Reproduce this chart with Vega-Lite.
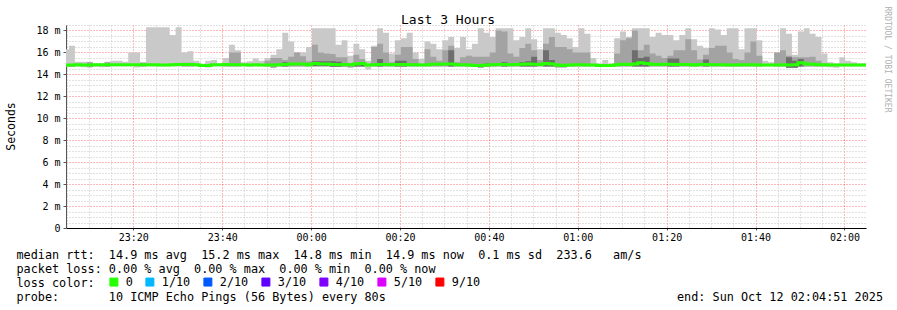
{
"$schema":"https://vega.github.io/schema/vega-lite/v6.json",
"width":800,"height":203,
"autosize":{"type":"none"},
"padding":{"left":66,"top":25,"right":31,"bottom":82},
"background":"white",
"title":{"text":"Last 3 Hours","font":"DejaVu Sans Mono","fontSize":13,"fontWeight":"normal","color":"#000","anchor":"middle","dx":-18,"dy":24,"offset":3},
"config":{"view":{"stroke":null},"axis":{"labelFont":"DejaVu Sans Mono","titleFont":"DejaVu Sans Mono","labelColor":"#000","titleColor":"#000","titleFontWeight":"normal","zindex":1,"gridDash":[1,2],"labelFlush":false,"labelOverlap":false}},
"data":{"values":[
{"t":"2025-10-11T23:04:11","lo":14.7,"hi":16.3,"mid":14.95,"dk":14.7,"med":14.85},
{"t":"2025-10-11T23:05:31","lo":14.7,"hi":16.6,"mid":14.95,"dk":14.7,"med":14.85},
{"t":"2025-10-11T23:06:51","lo":14.7,"hi":15.15,"mid":14.7,"dk":14.7,"med":14.88},
{"t":"2025-10-11T23:08:11","lo":14.65,"hi":15.15,"mid":14.65,"dk":14.65,"med":14.85},
{"t":"2025-10-11T23:09:31","lo":14.65,"hi":15.15,"mid":15.1,"dk":14.65,"med":14.85},
{"t":"2025-10-11T23:10:51","lo":14.7,"hi":15.0,"mid":14.7,"dk":14.7,"med":14.88},
{"t":"2025-10-11T23:12:11","lo":14.65,"hi":15.0,"mid":14.65,"dk":14.65,"med":14.88},
{"t":"2025-10-11T23:13:31","lo":14.7,"hi":15.15,"mid":15.1,"dk":14.7,"med":14.88},
{"t":"2025-10-11T23:14:51","lo":14.72,"hi":15.25,"mid":14.72,"dk":14.72,"med":14.88},
{"t":"2025-10-11T23:16:11","lo":14.72,"hi":15.25,"mid":14.72,"dk":14.72,"med":14.88},
{"t":"2025-10-11T23:17:31","lo":14.72,"hi":15.15,"mid":14.72,"dk":14.72,"med":14.88},
{"t":"2025-10-11T23:18:51","lo":14.72,"hi":16.0,"mid":14.72,"dk":14.72,"med":14.88},
{"t":"2025-10-11T23:20:11","lo":14.62,"hi":16.0,"mid":14.62,"dk":14.62,"med":14.88},
{"t":"2025-10-11T23:21:31","lo":14.72,"hi":15.1,"mid":15.05,"dk":14.72,"med":14.88},
{"t":"2025-10-11T23:22:51","lo":14.72,"hi":18.3,"mid":14.72,"dk":14.72,"med":14.88},
{"t":"2025-10-11T23:24:11","lo":14.72,"hi":18.3,"mid":14.72,"dk":14.72,"med":14.88},
{"t":"2025-10-11T23:25:31","lo":14.72,"hi":18.3,"mid":14.72,"dk":14.72,"med":14.85},
{"t":"2025-10-11T23:26:51","lo":14.72,"hi":18.3,"mid":14.72,"dk":14.72,"med":14.85},
{"t":"2025-10-11T23:28:11","lo":14.72,"hi":17.6,"mid":14.72,"dk":14.72,"med":14.88},
{"t":"2025-10-11T23:29:31","lo":14.72,"hi":18.3,"mid":14.72,"dk":14.72,"med":14.9},
{"t":"2025-10-11T23:30:51","lo":14.72,"hi":16.0,"mid":15.05,"dk":14.72,"med":14.9},
{"t":"2025-10-11T23:32:11","lo":14.72,"hi":16.1,"mid":15.05,"dk":14.72,"med":14.9},
{"t":"2025-10-11T23:33:31","lo":14.72,"hi":15.25,"mid":14.72,"dk":14.72,"med":14.88},
{"t":"2025-10-11T23:34:51","lo":14.7,"hi":14.95,"mid":14.7,"dk":14.7,"med":14.82},
{"t":"2025-10-11T23:36:11","lo":14.62,"hi":15.25,"mid":14.62,"dk":14.62,"med":14.82},
{"t":"2025-10-11T23:37:31","lo":14.72,"hi":15.3,"mid":14.72,"dk":14.72,"med":14.88},
{"t":"2025-10-11T23:38:51","lo":14.72,"hi":14.95,"mid":14.72,"dk":14.72,"med":14.88},
{"t":"2025-10-11T23:40:11","lo":14.72,"hi":15.5,"mid":15.0,"dk":14.72,"med":14.9},
{"t":"2025-10-11T23:41:31","lo":14.72,"hi":16.7,"mid":16.0,"dk":14.72,"med":14.88},
{"t":"2025-10-11T23:42:51","lo":14.72,"hi":16.2,"mid":16.0,"dk":14.72,"med":14.88},
{"t":"2025-10-11T23:44:11","lo":14.72,"hi":15.1,"mid":14.72,"dk":14.72,"med":14.88},
{"t":"2025-10-11T23:45:31","lo":14.7,"hi":15.2,"mid":14.7,"dk":14.7,"med":14.85},
{"t":"2025-10-11T23:46:51","lo":14.72,"hi":15.45,"mid":14.72,"dk":14.72,"med":14.88},
{"t":"2025-10-11T23:48:11","lo":14.72,"hi":15.25,"mid":14.72,"dk":14.72,"med":14.85},
{"t":"2025-10-11T23:49:31","lo":14.72,"hi":15.5,"mid":15.25,"dk":14.72,"med":14.85},
{"t":"2025-10-11T23:50:51","lo":14.6,"hi":15.8,"mid":15.5,"dk":14.6,"med":14.85},
{"t":"2025-10-11T23:52:11","lo":14.72,"hi":16.3,"mid":15.5,"dk":14.72,"med":14.88},
{"t":"2025-10-11T23:53:31","lo":14.72,"hi":17.8,"mid":15.3,"dk":15.1,"med":14.9},
{"t":"2025-10-11T23:54:51","lo":14.72,"hi":17.0,"mid":15.6,"dk":14.72,"med":14.95},
{"t":"2025-10-11T23:56:11","lo":14.72,"hi":16.0,"mid":16.0,"dk":14.72,"med":14.95},
{"t":"2025-10-11T23:57:31","lo":14.72,"hi":16.0,"mid":15.65,"dk":14.72,"med":14.95},
{"t":"2025-10-11T23:58:51","lo":14.72,"hi":16.5,"mid":15.2,"dk":14.72,"med":14.88},
{"t":"2025-10-12T00:00:11","lo":14.75,"hi":18.2,"mid":16.7,"dk":15.2,"med":15.0},
{"t":"2025-10-12T00:01:31","lo":14.75,"hi":18.2,"mid":16.0,"dk":15.2,"med":14.95},
{"t":"2025-10-12T00:02:51","lo":14.75,"hi":18.2,"mid":15.9,"dk":15.2,"med":14.95},
{"t":"2025-10-12T00:04:11","lo":14.7,"hi":18.2,"mid":15.85,"dk":15.2,"med":14.9},
{"t":"2025-10-12T00:05:31","lo":14.7,"hi":16.7,"mid":15.55,"dk":15.15,"med":14.88},
{"t":"2025-10-12T00:06:51","lo":14.7,"hi":17.1,"mid":15.55,"dk":14.7,"med":14.9},
{"t":"2025-10-12T00:08:11","lo":14.62,"hi":15.7,"mid":15.0,"dk":14.62,"med":14.88},
{"t":"2025-10-12T00:09:31","lo":14.72,"hi":16.8,"mid":15.8,"dk":15.0,"med":14.95},
{"t":"2025-10-12T00:10:51","lo":14.72,"hi":16.3,"mid":15.4,"dk":15.05,"med":15.0},
{"t":"2025-10-12T00:12:11","lo":14.45,"hi":15.25,"mid":14.45,"dk":14.45,"med":14.85},
{"t":"2025-10-12T00:13:31","lo":14.72,"hi":16.6,"mid":16.5,"dk":14.72,"med":14.88},
{"t":"2025-10-12T00:14:51","lo":14.72,"hi":18.2,"mid":16.8,"dk":15.4,"med":14.9},
{"t":"2025-10-12T00:16:11","lo":14.72,"hi":17.8,"mid":16.0,"dk":14.72,"med":14.9},
{"t":"2025-10-12T00:17:31","lo":14.72,"hi":15.9,"mid":15.1,"dk":14.72,"med":14.88},
{"t":"2025-10-12T00:18:51","lo":14.72,"hi":17.1,"mid":15.8,"dk":15.25,"med":14.9},
{"t":"2025-10-12T00:20:11","lo":14.72,"hi":17.3,"mid":16.5,"dk":15.25,"med":14.9},
{"t":"2025-10-12T00:21:31","lo":14.72,"hi":17.8,"mid":16.5,"dk":14.72,"med":14.88},
{"t":"2025-10-12T00:22:51","lo":14.72,"hi":16.0,"mid":15.4,"dk":14.72,"med":14.88},
{"t":"2025-10-12T00:24:11","lo":14.72,"hi":15.4,"mid":14.72,"dk":14.72,"med":14.85},
{"t":"2025-10-12T00:25:31","lo":14.72,"hi":17.0,"mid":16.3,"dk":14.72,"med":14.88},
{"t":"2025-10-12T00:26:51","lo":14.72,"hi":16.8,"mid":15.6,"dk":14.72,"med":14.92},
{"t":"2025-10-12T00:28:11","lo":14.72,"hi":16.3,"mid":15.25,"dk":14.72,"med":14.92},
{"t":"2025-10-12T00:29:31","lo":14.72,"hi":17.1,"mid":16.2,"dk":14.72,"med":14.95},
{"t":"2025-10-12T00:30:51","lo":14.72,"hi":17.4,"mid":16.6,"dk":16.2,"med":14.95},
{"t":"2025-10-12T00:32:11","lo":14.72,"hi":16.4,"mid":15.1,"dk":14.72,"med":14.88},
{"t":"2025-10-12T00:33:31","lo":14.72,"hi":17.4,"mid":15.55,"dk":14.72,"med":14.88},
{"t":"2025-10-12T00:34:51","lo":14.72,"hi":16.3,"mid":15.7,"dk":14.72,"med":14.85},
{"t":"2025-10-12T00:36:11","lo":14.72,"hi":16.8,"mid":15.6,"dk":14.72,"med":14.82},
{"t":"2025-10-12T00:37:31","lo":14.6,"hi":18.2,"mid":15.6,"dk":14.6,"med":14.8},
{"t":"2025-10-12T00:38:51","lo":14.72,"hi":17.8,"mid":15.6,"dk":15.0,"med":14.85},
{"t":"2025-10-12T00:40:11","lo":14.72,"hi":17.4,"mid":16.0,"dk":14.72,"med":14.88},
{"t":"2025-10-12T00:41:31","lo":14.72,"hi":18.2,"mid":18.0,"dk":14.72,"med":14.9},
{"t":"2025-10-12T00:42:51","lo":14.72,"hi":18.2,"mid":17.9,"dk":15.1,"med":14.9},
{"t":"2025-10-12T00:44:11","lo":14.72,"hi":18.2,"mid":15.9,"dk":14.72,"med":14.88},
{"t":"2025-10-12T00:45:31","lo":14.72,"hi":17.1,"mid":15.6,"dk":14.72,"med":14.9},
{"t":"2025-10-12T00:46:51","lo":14.72,"hi":17.4,"mid":16.4,"dk":15.1,"med":14.92},
{"t":"2025-10-12T00:48:11","lo":14.72,"hi":18.2,"mid":16.8,"dk":15.2,"med":14.95},
{"t":"2025-10-12T00:49:31","lo":14.72,"hi":17.2,"mid":16.2,"dk":15.6,"med":14.92},
{"t":"2025-10-12T00:50:51","lo":14.72,"hi":16.3,"mid":15.3,"dk":14.72,"med":14.9},
{"t":"2025-10-12T00:52:11","lo":14.72,"hi":18.2,"mid":16.8,"dk":16.2,"med":15.0},
{"t":"2025-10-12T00:53:31","lo":14.72,"hi":18.2,"mid":17.4,"dk":15.3,"med":14.95},
{"t":"2025-10-12T00:54:51","lo":14.62,"hi":17.8,"mid":16.5,"dk":14.62,"med":14.85},
{"t":"2025-10-12T00:56:11","lo":14.62,"hi":17.6,"mid":16.5,"dk":14.62,"med":14.82},
{"t":"2025-10-12T00:57:31","lo":14.72,"hi":17.3,"mid":16.3,"dk":14.72,"med":14.85},
{"t":"2025-10-12T00:58:51","lo":14.72,"hi":16.5,"mid":16.0,"dk":14.72,"med":14.88},
{"t":"2025-10-12T01:00:11","lo":14.72,"hi":18.2,"mid":16.0,"dk":14.72,"med":14.88},
{"t":"2025-10-12T01:01:31","lo":14.72,"hi":17.7,"mid":16.0,"dk":14.72,"med":14.85},
{"t":"2025-10-12T01:02:51","lo":14.72,"hi":15.5,"mid":14.72,"dk":14.72,"med":14.85},
{"t":"2025-10-12T01:04:11","lo":14.72,"hi":15.0,"mid":14.72,"dk":14.72,"med":14.82},
{"t":"2025-10-12T01:05:31","lo":14.72,"hi":15.3,"mid":14.72,"dk":14.72,"med":14.82},
{"t":"2025-10-12T01:06:51","lo":14.72,"hi":15.0,"mid":14.72,"dk":14.72,"med":14.82},
{"t":"2025-10-12T01:08:11","lo":14.72,"hi":17.3,"mid":15.9,"dk":14.72,"med":14.88},
{"t":"2025-10-12T01:09:31","lo":14.72,"hi":17.9,"mid":17.1,"dk":14.72,"med":14.92},
{"t":"2025-10-12T01:10:51","lo":14.72,"hi":17.4,"mid":17.3,"dk":14.72,"med":14.9},
{"t":"2025-10-12T01:12:11","lo":14.72,"hi":18.2,"mid":18.0,"dk":16.2,"med":14.95},
{"t":"2025-10-12T01:13:31","lo":14.72,"hi":18.2,"mid":16.2,"dk":15.5,"med":15.05},
{"t":"2025-10-12T01:14:51","lo":14.72,"hi":18.2,"mid":16.7,"dk":15.6,"med":15.0},
{"t":"2025-10-12T01:16:11","lo":14.72,"hi":17.4,"mid":15.9,"dk":14.72,"med":14.92},
{"t":"2025-10-12T01:17:31","lo":14.72,"hi":17.8,"mid":15.7,"dk":14.72,"med":14.9},
{"t":"2025-10-12T01:18:51","lo":14.72,"hi":17.6,"mid":15.5,"dk":14.72,"med":14.92},
{"t":"2025-10-12T01:20:11","lo":14.72,"hi":17.6,"mid":15.7,"dk":15.45,"med":14.92},
{"t":"2025-10-12T01:21:31","lo":14.72,"hi":17.1,"mid":16.2,"dk":15.45,"med":14.9},
{"t":"2025-10-12T01:22:51","lo":14.72,"hi":17.6,"mid":16.2,"dk":14.72,"med":14.9},
{"t":"2025-10-12T01:24:11","lo":14.72,"hi":18.2,"mid":17.2,"dk":14.72,"med":14.9},
{"t":"2025-10-12T01:25:31","lo":14.72,"hi":17.2,"mid":16.2,"dk":14.72,"med":14.85},
{"t":"2025-10-12T01:26:51","lo":14.72,"hi":16.6,"mid":15.35,"dk":14.72,"med":14.9},
{"t":"2025-10-12T01:28:11","lo":14.72,"hi":16.4,"mid":15.8,"dk":15.35,"med":14.9},
{"t":"2025-10-12T01:29:31","lo":14.72,"hi":18.2,"mid":16.4,"dk":14.72,"med":14.88},
{"t":"2025-10-12T01:30:51","lo":14.72,"hi":18.1,"mid":16.6,"dk":14.72,"med":14.88},
{"t":"2025-10-12T01:32:11","lo":14.72,"hi":17.6,"mid":16.6,"dk":14.72,"med":14.88},
{"t":"2025-10-12T01:33:31","lo":14.72,"hi":18.2,"mid":16.0,"dk":14.72,"med":14.85},
{"t":"2025-10-12T01:34:51","lo":14.72,"hi":18.2,"mid":15.4,"dk":14.72,"med":14.85},
{"t":"2025-10-12T01:36:11","lo":14.72,"hi":16.3,"mid":15.3,"dk":14.72,"med":14.88},
{"t":"2025-10-12T01:37:31","lo":14.72,"hi":18.2,"mid":16.0,"dk":14.72,"med":14.88},
{"t":"2025-10-12T01:38:51","lo":14.72,"hi":18.2,"mid":17.0,"dk":14.72,"med":14.88},
{"t":"2025-10-12T01:40:11","lo":14.72,"hi":17.1,"mid":15.7,"dk":14.72,"med":14.85},
{"t":"2025-10-12T01:41:31","lo":14.72,"hi":15.25,"mid":14.72,"dk":14.72,"med":14.85},
{"t":"2025-10-12T01:42:51","lo":14.72,"hi":15.1,"mid":14.72,"dk":14.72,"med":14.85},
{"t":"2025-10-12T01:44:11","lo":14.72,"hi":16.0,"mid":16.0,"dk":14.72,"med":14.85},
{"t":"2025-10-12T01:45:31","lo":14.72,"hi":18.2,"mid":16.2,"dk":14.72,"med":14.88},
{"t":"2025-10-12T01:46:51","lo":14.6,"hi":17.7,"mid":15.7,"dk":15.55,"med":14.85},
{"t":"2025-10-12T01:48:11","lo":14.6,"hi":15.8,"mid":15.55,"dk":15.25,"med":14.88},
{"t":"2025-10-12T01:49:31","lo":14.72,"hi":17.9,"mid":15.55,"dk":15.4,"med":15.05},
{"t":"2025-10-12T01:50:51","lo":14.72,"hi":18.2,"mid":15.55,"dk":14.72,"med":14.95},
{"t":"2025-10-12T01:52:11","lo":14.72,"hi":17.7,"mid":15.6,"dk":14.72,"med":14.92},
{"t":"2025-10-12T01:53:31","lo":14.72,"hi":17.4,"mid":15.25,"dk":14.72,"med":14.88},
{"t":"2025-10-12T01:54:51","lo":14.72,"hi":15.9,"mid":15.0,"dk":14.72,"med":14.88},
{"t":"2025-10-12T01:56:11","lo":14.65,"hi":15.1,"mid":14.65,"dk":14.65,"med":14.85},
{"t":"2025-10-12T01:57:31","lo":14.6,"hi":15.0,"mid":14.6,"dk":14.6,"med":14.85},
{"t":"2025-10-12T01:58:51","lo":14.72,"hi":15.55,"mid":14.72,"dk":14.72,"med":14.85},
{"t":"2025-10-12T02:00:11","lo":14.72,"hi":15.25,"mid":14.72,"dk":14.72,"med":14.85},
{"t":"2025-10-12T02:01:31","lo":14.72,"hi":15.1,"mid":14.72,"dk":14.72,"med":14.85},
{"t":"2025-10-12T02:02:51","lo":14.72,"hi":15.0,"mid":14.72,"dk":14.72,"med":14.85},
{"t":"2025-10-12T02:04:11","lo":14.72,"hi":15.0,"mid":14.72,"dk":14.72,"med":14.85},
{"t":"2025-10-12T02:05:31","lo":14.72,"hi":15.0,"mid":14.72,"dk":14.72,"med":14.85}
]},
"resolve":{"axis":{"x":"independent","y":"independent"}},
"layer":[
{"mark":{"type":"area","interpolate":"step-after","color":"#c9c9c9","clip":true},
 "encoding":{
  "x":{"field":"t","type":"temporal","scale":{"domain":[{"year":2025,"month":10,"date":11,"hours":23,"minutes":4,"seconds":51},{"year":2025,"month":10,"date":12,"hours":2,"minutes":4,"seconds":51}]},
   "axis":{"orient":"bottom","values":[{"year":2025,"month":10,"date":11,"hours":23,"minutes":20},{"year":2025,"month":10,"date":11,"hours":23,"minutes":40},{"year":2025,"month":10,"date":12,"hours":0,"minutes":0},{"year":2025,"month":10,"date":12,"hours":0,"minutes":20},{"year":2025,"month":10,"date":12,"hours":0,"minutes":40},{"year":2025,"month":10,"date":12,"hours":1,"minutes":0},{"year":2025,"month":10,"date":12,"hours":1,"minutes":20},{"year":2025,"month":10,"date":12,"hours":1,"minutes":40},{"year":2025,"month":10,"date":12,"hours":2,"minutes":0}],
    "format":"%H:%M","labelFontSize":10,"labelPadding":2,"tickSize":2,"tickColor":"#555","domainColor":"#000","domainWidth":1,
    "grid":true,"gridColor":"#ff0000","gridOpacity":0.55,
    "title":["median rtt:\u00a0\u00a014.9 ms avg\u00a0\u00a015.2 ms max\u00a0\u00a014.8 ms min\u00a0\u00a014.9 ms now\u00a0\u00a00.1 ms sd\u00a0\u00a0233.6\u00a0\u00a0\u00a0am/s","packet loss: 0.00 % avg\u00a0\u00a00.00 % max\u00a0\u00a00.00 % min\u00a0\u00a00.00 % now","loss color:","probe:\u00a0\u00a0\u00a0\u00a0\u00a0\u00a0\u00a010 ICMP Echo Pings (56 Bytes) every 80s\u00a0\u00a0\u00a0\u00a0\u00a0\u00a0\u00a0\u00a0\u00a0\u00a0\u00a0\u00a0\u00a0\u00a0\u00a0\u00a0\u00a0\u00a0\u00a0\u00a0\u00a0\u00a0\u00a0\u00a0\u00a0\u00a0\u00a0\u00a0\u00a0\u00a0\u00a0\u00a0\u00a0\u00a0\u00a0\u00a0\u00a0\u00a0\u00a0\u00a0\u00a0end: Sun Oct 12 02:04:51 2025"],
    "titleFontSize":11.8,"titleAnchor":"start","titleAlign":"left","titleBaseline":"alphabetic","titleX":-50,"titleY":30,"titleLineHeight":14}},
  "y":{"field":"lo","type":"quantitative","scale":{"domain":[0,18.5],"nice":false,"zero":false},
   "axis":{"orient":"left","values":[0,2,4,6,8,10,12,14,16,18],"labelExpr":"datum.value == 0 ? '0\u00a0\u00a0' : datum.value + ' m'","labelFontSize":10,"labelPadding":3,"tickSize":3,"tickColor":"#555","domainColor":"#555",
    "grid":true,"gridColor":"#ff0000","gridOpacity":0.55,
    "title":"Seconds","titleFontSize":11.5,"titleAngle":-90,"titleX":-55,"titleY":101,"titleAlign":"center","titleBaseline":"middle"}},
  "y2":{"field":"hi"}
 }},
{"mark":{"type":"area","interpolate":"step-after","color":"#a3a3a3","clip":true},
 "encoding":{
  "x":{"field":"t","type":"temporal","axis":null},
  "y":{"field":"lo","type":"quantitative","axis":null},
  "y2":{"field":"mid"}
 }},
{"mark":{"type":"area","interpolate":"step-after","color":"#6e6e6e","clip":true},
 "encoding":{
  "x":{"field":"t","type":"temporal","axis":null},
  "y":{"field":"lo","type":"quantitative","axis":null},
  "y2":{"field":"dk"}
 }},
{"mark":{"type":"line","interpolate":"step-after","opacity":0,"clip":true},
 "encoding":{
  "x":{"field":"t","type":"temporal",
   "axis":{"orient":"bottom","labels":false,"ticks":false,"domain":false,"title":null,"grid":true,"gridColor":"#c4c4c4","gridOpacity":1,
    "values":[{"year":2025,"month":10,"date":11,"hours":23,"minutes":5},{"year":2025,"month":10,"date":11,"hours":23,"minutes":10},{"year":2025,"month":10,"date":11,"hours":23,"minutes":15},{"year":2025,"month":10,"date":11,"hours":23,"minutes":25},{"year":2025,"month":10,"date":11,"hours":23,"minutes":30},{"year":2025,"month":10,"date":11,"hours":23,"minutes":35},{"year":2025,"month":10,"date":11,"hours":23,"minutes":45},{"year":2025,"month":10,"date":11,"hours":23,"minutes":50},{"year":2025,"month":10,"date":11,"hours":23,"minutes":55},{"year":2025,"month":10,"date":12,"hours":0,"minutes":5},{"year":2025,"month":10,"date":12,"hours":0,"minutes":10},{"year":2025,"month":10,"date":12,"hours":0,"minutes":15},{"year":2025,"month":10,"date":12,"hours":0,"minutes":25},{"year":2025,"month":10,"date":12,"hours":0,"minutes":30},{"year":2025,"month":10,"date":12,"hours":0,"minutes":35},{"year":2025,"month":10,"date":12,"hours":0,"minutes":45},{"year":2025,"month":10,"date":12,"hours":0,"minutes":50},{"year":2025,"month":10,"date":12,"hours":0,"minutes":55},{"year":2025,"month":10,"date":12,"hours":1,"minutes":5},{"year":2025,"month":10,"date":12,"hours":1,"minutes":10},{"year":2025,"month":10,"date":12,"hours":1,"minutes":15},{"year":2025,"month":10,"date":12,"hours":1,"minutes":25},{"year":2025,"month":10,"date":12,"hours":1,"minutes":30},{"year":2025,"month":10,"date":12,"hours":1,"minutes":35},{"year":2025,"month":10,"date":12,"hours":1,"minutes":45},{"year":2025,"month":10,"date":12,"hours":1,"minutes":50},{"year":2025,"month":10,"date":12,"hours":1,"minutes":55}]}},
  "y":{"field":"med","type":"quantitative",
   "axis":{"orient":"left","labels":false,"ticks":false,"domain":false,"title":null,"grid":true,"gridColor":"#c4c4c4","gridOpacity":1,
    "values":[0.5,1,1.5,2.5,3,3.5,4.5,5,5.5,6.5,7,7.5,8.5,9,9.5,10.5,11,11.5,12.5,13,13.5,14.5,15,15.5,16.5,17,17.5,18.5]}}
 }},
{"mark":{"type":"line","interpolate":"step-after","strokeWidth":3,"clip":true},
 "encoding":{
  "x":{"field":"t","type":"temporal","axis":null},
  "y":{"field":"med","type":"quantitative","axis":null},
  "color":{"datum":"0","type":"nominal",
   "scale":{"domain":["0","1/10","2/10","3/10","4/10","5/10","9/10"],"range":["#26ff00","#00b8ff","#0059ff","#5e00ff","#7e00ff","#dd00ff","#ff0000"]},
   "legend":{"orient":"none","legendX":42,"legendY":251,"direction":"horizontal","title":null,"symbolType":"square","symbolSize":64,"symbolStrokeColor":"#000","symbolStrokeWidth":1,"labelFont":"DejaVu Sans Mono","labelFontSize":11.8,"labelColor":"#000","labelOffset":6,"columnPadding":10,"padding":0,
    "encode":{"symbols":{"update":{"fill":{"scale":"color","field":"value"},"stroke":{"value":"#000"},"strokeWidth":{"value":1},"opacity":{"value":1}}}}}}
 }},
{"mark":{"type":"line","opacity":0,"clip":true},
 "encoding":{
  "x":{"field":"t","type":"temporal","axis":null},
  "y":{"field":"med","type":"quantitative",
   "axis":{"orient":"right","labels":false,"ticks":false,"domain":false,"grid":false,"title":"RRDTOOL / TOBI OETIKER","titleFontSize":8,"titleColor":"#b0b0b0","titleAngle":90,"titleX":20,"titleY":34,"titleAlign":"center","titleBaseline":"middle"}}
 }}
]
}
